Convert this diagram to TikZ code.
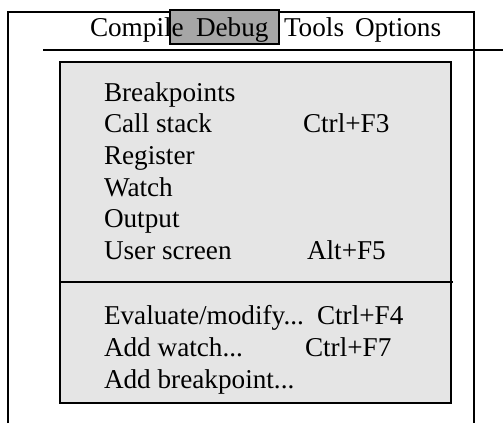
\documentclass[tikz,border=0pt]{standalone}
\usepackage{fontspec}
\setmainfont{Liberation Serif}
\begin{document}
\begin{tikzpicture}[x=0.5pt, y=-0.5pt, line width=1pt,
		every node/.style={inner sep=0pt, anchor=base west, font=\fontsize{13.6}{16}\selectfont}]
		\useasboundingbox (0,0) rectangle (503,423);
		% window and menu bar
		\draw (8,423) -- (8,12) -- (474,12) -- (474,423);
		\draw (43,50) -- (503,50);
		\draw [fill=black!35] (170,10) rectangle (279,44);
		\node (compile) at (89,36) {Compile};
		\node (debug) at (195,36) {Debug};
		\node (tools) at (283,36) {Tools};
		\node (options) at (354,36) {Options};
		% pull-down menu
		\draw [fill=black!10] (60,62) rectangle (451,403);
		\draw (60,282) -- (453,282);
		\node (brk) at (103,101) {Breakpoints};
		\node (call) at (103,132) {Call stack};
		\node (callkey) at (302,132) {Ctrl+F3};
		\node (reg) at (103,164) {Register};
		\node (watch) at (103,196) {Watch};
		\node (out) at (103,227) {Output};
		\node (user) at (103,259) {User screen};
		\node (userkey) at (306,259) {Alt+F5};
		\node (eval) at (103,324) {Evaluate/modify...};
		\node (evalkey) at (316,324) {Ctrl+F4};
		\node (addw) at (103,356) {Add watch...};
		\node (addwkey) at (304,356) {Ctrl+F7};
		\node (addb) at (103,388) {Add breakpoint...};
	\end{tikzpicture}
\end{document}
